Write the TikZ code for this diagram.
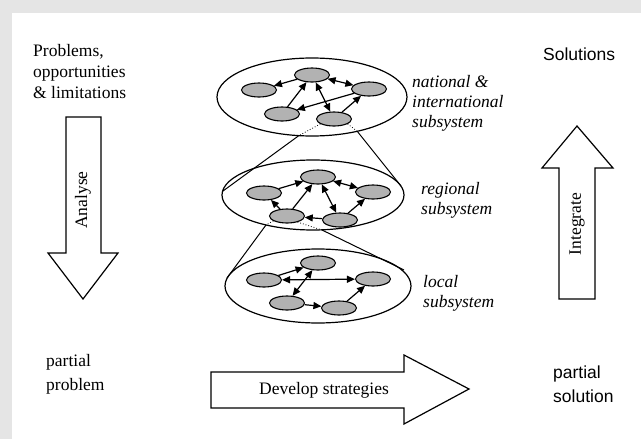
\documentclass[tikz,border=0pt]{standalone}
\usepackage{fontspec}
\setmainfont{Liberation Serif}
\setsansfont{Liberation Sans}
\usetikzlibrary{shapes.geometric,arrows.meta}
\tikzset{
  sub/.style={ellipse,draw,fill=gray!60,line width=1.1pt,minimum width=35pt,minimum height=14pt,inner sep=0pt},
  link/.style={line width=1.2pt,-{Triangle[length=8pt,width=7pt]}},
  links/.style={line width=1.2pt,{Triangle[length=8pt,width=7pt]}-{Triangle[length=8pt,width=7pt]}},
  lbl/.style={inner sep=0pt,anchor=north west,align=left,font=\fontsize{17.5}{21}\selectfont},
  lvl/.style={inner sep=0pt,anchor=north west,align=left,font=\fontsize{17.5}{20}\selectfont\itshape},
  block/.style={draw,fill=white,line width=1.2pt,line join=miter}
}
\begin{document}
\begin{tikzpicture}[x=1pt,y=-1pt]
\fill[gray!20] (0,0) rectangle (641,439);
\fill[white] (12,13) rectangle (641,439);
\useasboundingbox (0,0) rectangle (641,439);

\node[lbl] (prob) at (33,44) {Problems,\\opportunities\\\& limitations};
\node[lbl,font=\fontsize{17.5}{21}\selectfont\sffamily] (sol) at (543,48) {Solutions};
\node[lbl,font=\fontsize{17.5}{24}\selectfont] (pprob) at (46,354) {partial\\problem};
\node[lbl,font=\fontsize{17.5}{24}\selectfont\sffamily] (psol) at (553,366) {partial\\solution};

\draw[block] (66,117) -- (101,117) -- (101,253) -- (118,253) -- (83,299) -- (48,253) -- (66,253) -- cycle;
\node[rotate=90,font=\fontsize{17.5}{21}\selectfont] (ana) at (83,200) {Analyse};
\draw[block] (559,299) -- (559,168) -- (542,168) -- (577,126) -- (613,168) -- (595,168) -- (595,299) -- cycle;
\node[rotate=90,font=\fontsize{17.5}{21}\selectfont] (integ) at (577,224) {Integrate};
\draw[block] (211,372) -- (404,372) -- (404,355) -- (469,389) -- (404,424) -- (404,408) -- (211,408) -- cycle;
\node[font=\fontsize{17.5}{21}\selectfont] (dev) at (324,390) {Develop strategies};

\draw[line width=1.2pt] (312,97) ellipse [x radius=95pt, y radius=39pt];
\draw[line width=1.2pt] (313,195) ellipse [x radius=91pt, y radius=35pt];
\draw[line width=1.2pt] (318,286) ellipse [x radius=93pt, y radius=37pt];

\node[lvl] (nat) at (412,75) {national \&\\international\\subsystem};
\node[lvl] (reg) at (421,182) {regional\\subsystem};
\node[lvl] (loc) at (423,275) {local\\subsystem};

\node[sub] (t1) at (312,75) {};
\node[sub] (t2) at (259,90) {};
\node[sub] (t3) at (369,89) {};
\node[sub] (t4) at (282,114) {};
\node[sub] (t5) at (334,119) {};
\draw[link] (t1) -- (t2);
\draw[link] (t4) -- (t1);
\draw[links] (t1) -- (t5);
\draw[links] (t1) -- (t3);
\draw[link] (t3) -- (t4);
\draw[link] (t5) -- (t3);

\node[sub] (m1) at (318,177) {};
\node[sub] (m2) at (264,193) {};
\node[sub] (m3) at (373,192) {};
\node[sub] (m4) at (287,216) {};
\node[sub] (m5) at (340,220) {};
\draw[link] (m2) -- (m1);
\draw[link] (m4) -- (m2);
\draw[link] (m4) -- (m1);
\draw[links] (m1) -- (m5);
\draw[links] (m1) -- (m3);
\draw[link] (m5) -- (m3);
\draw[link] (m5) -- (m4);

\node[sub] (l1) at (318,263) {};
\node[sub] (l2) at (264,280) {};
\node[sub] (l3) at (373,279) {};
\node[sub] (l4) at (287,303) {};
\node[sub] (l5) at (339,308) {};
\draw[link] (l2) -- (l1);
\draw[links] (l1) -- (l4);
\draw[links] (l2) -- (l3);
\draw[link] (l4) -- (l5);
\draw[link] (l5) -- (l3);

\coordinate (tx) at (299,135.5);
\coordinate (ty) at (357,131);
\coordinate (ml) at (223,191);
\coordinate (mr) at (401,186);
\coordinate (mx) at (266,225);
\coordinate (my) at (322,230);
\coordinate (bl) at (227,278);
\coordinate (br) at (404,270);
\draw[dotted,line width=0.8pt] (t5.200) -- (tx);
\draw[line width=1pt] (tx) -- (ml);
\draw[dotted,line width=0.8pt] (t5.-20) -- (ty);
\draw[line width=1pt] (ty) -- (mr);
\draw[dotted,line width=0.8pt] (m4.200) -- (mx);
\draw[line width=1pt] (mx) -- (bl);
\draw[dotted,line width=0.8pt] (m4.-30) -- (my);
\draw[line width=1pt] (my) -- (br);
\end{tikzpicture}
\end{document}
